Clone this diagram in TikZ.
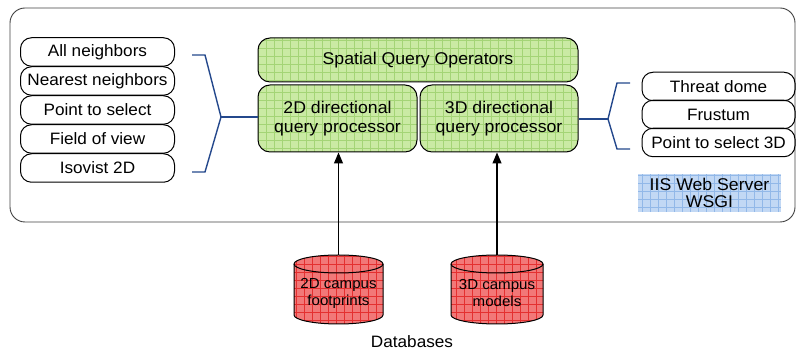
\documentclass[tikz,border=0pt]{standalone}
\usepackage{fontspec}
\setmainfont{Liberation Sans}[FakeStretch=1.04]
\usetikzlibrary{arrows.meta}
\definecolor{gfill}{RGB}{202,234,164}
\definecolor{gline}{RGB}{164,212,118}
\definecolor{rfill}{RGB}{242,120,120}
\definecolor{rline}{RGB}{228,48,48}
\definecolor{bfill}{RGB}{194,216,244}
\definecolor{bline}{RGB}{146,184,232}
\definecolor{brk}{RGB}{36,72,140}
\tikzset{
  x=1pt, y=1pt,
  gridfill/.style 2 args={fill=#1, path picture={
      \draw[#2, line width=0.45pt] ([shift={(-8,-8)}]path picture bounding box.south west)
        grid[step=8pt] (path picture bounding box.north east);}},
  item/.style={draw=black, line width=1pt, rounded corners=11pt,
    minimum height=28.5pt, inner sep=0pt, font=\fontsize{16.5}{19}\selectfont},
  proc/.style={draw=black, line width=1pt, rounded corners=12pt,
    gridfill={gfill}{gline}, inner sep=0pt, align=center,
    font=\fontsize{17}{19}\selectfont},
  brace/.style={draw=brk, line width=1.4pt},
  feed/.style={draw=black, line width=1.2pt, -{Triangle[length=11pt,width=9pt]}},
}
\newcommand{\dbcyl}[4]{% centre x, x-radius, name, text
  \begin{scope}
    \clip (#1-#2,88) -- (#1-#2,37) arc (180:360:#2 and 9) -- (#1+#2,88)
      arc (0:180:#2 and 9) -- cycle;
    \fill[rfill] (#1-#2-1,20) rectangle (#1+#2+1,100);
    \draw[rline, line width=0.45pt] (#1-#2-8,20) grid[step=8pt] (#1+#2+8,100);
  \end{scope}
  \draw[line width=1pt] (#1-#2,88) -- (#1-#2,37) arc (180:360:#2 and 9) -- (#1+#2,88)
    arc (0:180:#2 and 9) -- cycle;
  \draw[line width=1pt] (#1-#2,88) arc (180:360:#2 and 9);
  \coordinate (#3) at (#1,97);
  \node[align=center, font=\fontsize{14.5}{17}\selectfont] at (#1,59) {#4};
}
\begin{document}
\begin{tikzpicture}
\useasboundingbox (0,0) rectangle (797,352);
% server frame
\draw[black!75, line width=0.9pt, rounded corners=15pt] (10,344) rectangle (795,130);

% 2D operators
\foreach \t [count=\i from 0] in {All neighbors,Nearest neighbors,Point to select,Field of view,Isovist 2D}
  \node[item, minimum width=154pt] (l\i) at (97.5,300-29*\i) {\t};

% 3D operators
\foreach \t [count=\i from 0] in {Threat dome,Frustum,Point to select 3D}
  \node[item, minimum width=153pt] (r\i) at (718.5,265.5-28*\i) {\t};

% processors
\node[proc, minimum width=320pt, minimum height=44pt] (sqo) at (418,292) {Spatial Query Operators};
\node[proc, minimum width=159pt, minimum height=67pt] (p2) at (337.5,233.5) {2D directional\\query processor};
\node[proc, minimum width=158pt, minimum height=67pt] (p3) at (499,233.5) {3D directional\\query processor};

% web server label
\node[gridfill={bfill}{bline}, minimum width=143pt, minimum height=38pt, inner sep=0pt,
  align=center, font=\fontsize{17}{17}\selectfont] (iis) at (709.5,159) {IIS Web Server\\WSGI};

% braces
\coordinate (lb) at (221,235);
\draw[brace] (192,297) -- (205,297) -- (lb) -- (205,180) -- (192,180);
\draw[brace] (lb) -- (lb -| p2.west);
\coordinate (rb) at (608,233);
\draw[brace] (630,269) -- (617,269) -- (rb) -- (617,203) -- (630,203);
\draw[brace] (rb) -- (rb -| p3.east);

% databases
\dbcyl{338.5}{44.5}{db2}{2D campus\\footprints}
\dbcyl{497}{46}{db3}{3D campus\\models}
\draw[feed] (db2) -- (db2 |- p2.south);
\draw[feed] (db3) -- (db3 |- p3.south);
\node[font=\fontsize{16.5}{19}\selectfont] (dbl) at (412,10) {Databases};
\end{tikzpicture}
\end{document}
